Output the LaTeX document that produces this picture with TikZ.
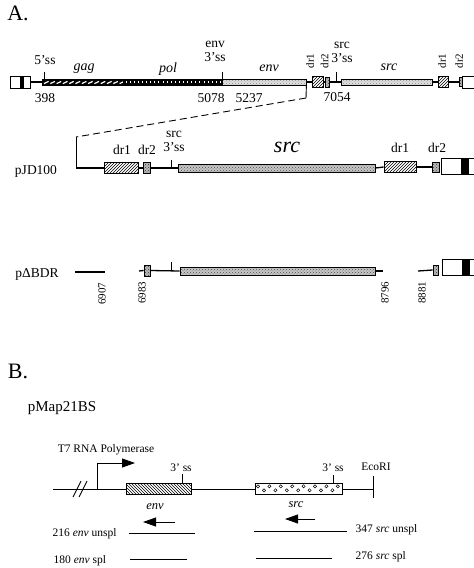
\documentclass[tikz,border=0pt]{standalone}
\usepackage{fontspec}
\setmainfont{Liberation Serif}
\usetikzlibrary{arrows.meta,positioning,patterns,calc}

\begin{document}
\begin{tikzpicture}[x=1pt, y=-1pt, line width=1.3pt,
    bar/.style={rectangle, draw, line width=0.8pt, inner sep=0pt, minimum height=6pt},
    gagbar/.style={bar, fill=black, path picture={
        \foreach \i in {0,...,12}
          \draw[white, line width=1.2pt] ([xshift=\i*6.3pt+2pt, yshift=1.4pt]path picture bounding box.south west) -- ++(4.6pt,2.2pt);}},
    polbar/.style={bar, fill=black, path picture={
        \foreach \i in {0,...,23}
          \draw[white, line width=0.8pt] ([xshift=\i*4.1pt+3pt, yshift=2pt]path picture bounding box.south west) -- ++(0pt,2pt);}},
    dotbar/.style={bar, preaction={fill=gray!25}, pattern=crosshatch dots, pattern color=gray!90},
    srcbar/.style={bar, minimum height=8pt, preaction={fill=gray!45}, pattern=crosshatch dots, pattern color=black!70},
    drone/.style={rectangle, draw, line width=0.8pt, inner sep=0pt, minimum height=11pt, preaction={fill=white}, pattern=north east lines},
    drtwo/.style={rectangle, draw, line width=0.8pt, inner sep=0pt, minimum height=10pt, preaction={fill=gray!55}, pattern=crosshatch dots, pattern color=black!80},
    ltr/.style 2 args={rectangle, draw, line width=0.9pt, fill=white, inner sep=0pt, minimum height=16pt,
        path picture={\fill[black] ([xshift=#1]path picture bounding box.south west) rectangle ([xshift=#1+#2]path picture bounding box.north west);}},
    head/.style={font=\fontsize{22}{24}\selectfont, inner sep=0pt},
    lbl/.style={font=\fontsize{13.5}{14}\selectfont, inner sep=0pt, align=center},
    gene/.style={font=\fontsize{14}{16}\selectfont\itshape, inner sep=0pt},
    num/.style={font=\fontsize{11}{13}\selectfont, inner sep=0pt},
    small/.style={font=\fontsize{11.5}{13}\selectfont, inner sep=0pt},
    thin/.style={line width=0.9pt},
    envbox/.style={rectangle, draw, thin, inner sep=0pt, minimum height=11pt, preaction={fill=white}, pattern=north west lines},
    srcbox/.style={rectangle, draw, thin, inner sep=0pt, minimum height=11pt, fill=white, path picture={
        \foreach \i in {0,...,7}
          \draw[black, line width=0.5pt] ([xshift=\i*11.4pt+3pt, yshift=-2.8pt]path picture bounding box.north west) circle (1.6pt);
        \foreach \i in {0,...,6}
          \draw[black, line width=0.5pt] ([xshift=\i*11.4pt+9pt, yshift=-6.8pt]path picture bounding box.north west) circle (1.6pt);}},
    pointer/.style={thin, -{Triangle[length=13pt, width=9pt]}}
  ]
  \useasboundingbox (0,0) rectangle (474,568);

  % --- A: provirus
  \node[head] (lab-a) at (18,13) {A.};
  \node[ltr={10pt}{4pt}, minimum width=20pt, minimum height=12pt] (top-ltr) at (20,82) {};
  \node[gagbar, minimum width=81pt] (top-gag) at (82.5,82) {};
  \node[polbar, minimum width=99pt] (top-pol) at (172.5,82) {};
  \node[dotbar, minimum width=84pt] (top-env) at (264,82) {};
  \node[drone, minimum width=11pt] (top-dra) at (317.5,82) {};
  \node[drtwo, minimum width=4pt] (top-drb) at (327,82) {};
  \node[dotbar, minimum width=91pt] (top-src) at (386.5,82) {};
  \node[drone, minimum width=10pt] (top-drc) at (443,82) {};
  \node[drtwo, minimum width=3pt, minimum height=9pt] (top-drd) at (460.5,82) {};
  \node[ltr={30pt}{0pt}, minimum width=20pt, minimum height=12pt] (top-ltr2) at (472,82) {};
  \draw (top-ltr.east) -- (top-gag.west);
  \draw (top-env.east) -- (top-dra.west);
  \draw (top-dra.east) -- (top-drb.west);
  \draw (top-drb.east) -- (top-src.west);
  \draw (top-src.east) -- (top-drc.west);
  \draw (top-drc.east) -- (top-drd.west);
  \draw[thin] ([xshift=3pt]top-gag.north west) -- ++(0,-7);
  \draw[thin] (top-pol.north east) -- ++(0,-7);
  \draw[thin] (336,82) -- (336,72);
  \node[lbl] (ss-five) at (45,60) {5'ss};
  \node[gene] (top-gagl) at (84,69) {gag};
  \node[gene] (top-poll) at (168,69) {pol};
  \node[lbl] (ss-env) at (215,51) {env\\3'ss};
  \node[gene] (top-envl) at (269,68) {env};
  \node[lbl] (ss-src) at (342,52) {src\\3'ss};
  \node[gene] (top-srcl) at (389,67) {src};
  \node[num, rotate=90, anchor=west] at (310,69) {dr1};
  \node[num, rotate=90, anchor=west] at (324.5,69) {dr2};
  \node[num, rotate=90, anchor=west] at (442,69) {dr1};
  \node[num, rotate=90, anchor=west] at (459,69) {dr2};
  \node[lbl] (n398) at (45,98) {398};
  \node[lbl] (n5078) at (211,98) {5078};
  \node[lbl] (n5237) at (249,98) {5237};
  \node[lbl] (n7054) at (337,97) {7054};

  % expansion
  \coordinate (exp-a) at (306,98);
  \coordinate (exp-b) at (76,137);
  \coordinate (jd-start) at (76,168);
  \draw[thin] (top-env.south east) -- (exp-a);
  \draw[thin, dash pattern=on 7pt off 4pt] (exp-a) -- (exp-b);
  \draw[thin] (exp-b) -- (jd-start);

  % pJD100
  \node[lbl] (jd-name) at (36,171) {pJD100};
  \node[drone, minimum width=34pt] (jd-dra) at (121,168) {};
  \node[drtwo, minimum width=7pt, minimum height=11pt] (jd-drb) at (146.5,168) {};
  \node[srcbar, minimum width=197pt] (jd-src) at (276.5,168) {};
  \node[drone, minimum width=32pt] (jd-drc) at (400,167) {};
  \node[drtwo, minimum width=7pt] (jd-drd) at (435.5,167) {};
  \node[ltr={20pt}{8pt}, minimum width=39pt] (jd-ltr) at (460.5,166) {};
  \draw (jd-start) -- (jd-dra.west);
  \draw (jd-dra.east) -- (jd-drb.west);
  \draw (jd-drb.east) -- (jd-src.west);
  \draw (jd-src.east) -- (jd-drc.west);
  \draw (jd-drc.east) -- (jd-drd.west);
  \draw[thin] (171,168) -- (171,160);
  \node[lbl] at (122,150) {dr1};
  \node[lbl] at (147,150) {dr2};
  \node[lbl] at (174,141) {src\\3'ss};
  \node[font=\fontsize{22}{24}\selectfont\itshape, inner sep=0pt] (jd-srcl) at (287,147) {src};
  \node[lbl] at (400,148) {dr1};
  \node[lbl] at (437,148) {dr2};

  % pDeltaBDR
  \node[lbl] (bd-name) at (37,274) {pΔBDR};
  \coordinate (bd-a) at (75,272);
  \coordinate (bd-b) at (105,272);
  \coordinate (bd-c) at (139,271);
  \coordinate (bd-d) at (383,271);
  \coordinate (bd-e) at (418,271);
  \node[drtwo, minimum width=6pt, minimum height=11pt] (bd-drb) at (147,270.5) {};
  \node[srcbar, minimum width=195pt] (bd-src) at (277.5,271) {};
  \node[drtwo, minimum width=5pt] (bd-drd) at (435.5,270) {};
  \node[ltr={20pt}{8pt}, minimum width=38pt] (bd-ltr) at (461,267.5) {};
  \draw (bd-a) -- (bd-b);
  \draw (bd-c) -- (bd-drb.west);
  \draw (bd-drb.east) -- (bd-src.west);
  \draw (bd-src.east) -- (bd-d);
  \draw (bd-e) -- (bd-drd.west);
  \draw[thin] (171,271) -- (171,262);
  \node[num, rotate=90, anchor=east] at (102,282) {6907};
  \node[num, rotate=90, anchor=east] at (142,281) {6983};
  \node[num, rotate=90, anchor=east] at (385,281) {8796};
  \node[num, rotate=90, anchor=east] at (422,281) {8881};

  % --- B: probe
  \node[head] (lab-b) at (18,371) {B.};
  \node[font=\fontsize{15}{16}\selectfont, inner sep=0pt] (b-name) at (62,408) {pMap21BS};
  \node[envbox, minimum width=65pt] (b-env) at (158.5,489) {};
  \node[srcbox, minimum width=87pt] (b-src) at (298.5,489) {};
  \coordinate (b-start) at (53,489);
  \coordinate (b-prom) at (97,489);
  \coordinate (b-tss) at (135,463);
  \coordinate (b-eco) at (373,489);
  \draw[thin] (b-start) -- (b-env.west);
  \draw[thin] (73,497) -- (81,481) (79,497) -- (87,481);
  \draw[pointer] (b-prom) |- (b-tss);
  \draw[thin] (b-env.east) -- (b-src.west);
  \draw[thin] (b-src.east) -- (b-eco);
  \draw[thin] (373,476) -- (373,498);
  \draw[thin] ([xshift=-9pt]b-env.north east) -- ++(0,-9);
  \draw[thin] ([xshift=-9pt]b-src.north east) -- ++(0,-8);
  \node[small] (b-t7) at (106,450) {T7 RNA Polymerase};
  \node[small] at (181,468) {3' ss};
  \node[small] at (333,468) {3' ss};
  \node[small] (b-ecol) at (376,467) {EcoRI};
  \node[font=\fontsize{12.5}{14}\selectfont\itshape, inner sep=0pt] at (155,507) {env};
  \node[font=\fontsize{12.5}{14}\selectfont\itshape, inner sep=0pt] at (296,505) {src};
  \coordinate (b-ea) at (175,522);
  \coordinate (b-eb) at (143,522);
  \coordinate (b-sa) at (315,519);
  \coordinate (b-sb) at (285,519);
  \draw[pointer] (b-ea) -- (b-eb);
  \draw[pointer] (b-sa) -- (b-sb);

  % probes
  \draw[thin] (129,533) -- (195,533);
  \draw[thin] (130,559) -- (187,559);
  \draw[thin] (254,531) -- (347,531);
  \draw[thin] (256,558) -- (332,558);
  \node[small, anchor=west] at (52,534) {216 \textit{env} unspl};
  \node[small, anchor=west] at (53,561) {180 \textit{env} spl};
  \node[small, anchor=west] at (355,530) {347 \textit{src} unspl};
  \node[small, anchor=west] at (355,557) {276 \textit{src} spl};
\end{tikzpicture}
\end{document}
